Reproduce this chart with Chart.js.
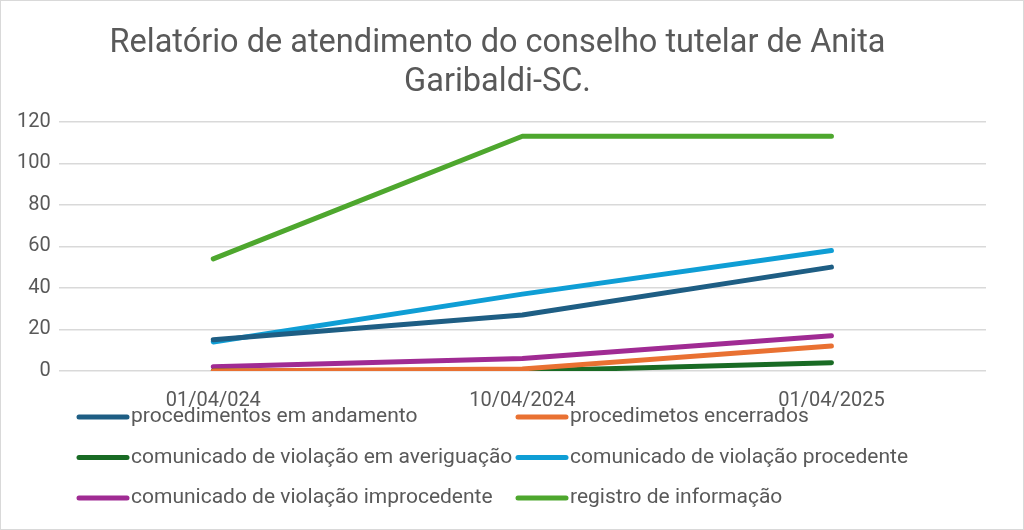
<!DOCTYPE html>
<html>
<head>
<meta charset="utf-8">
<script src="https://cdn.jsdelivr.net/npm/chart.js@4"></script>
<style>
  html, body { margin: 0; padding: 0; background: #fff; }
  #wrap { width: 1022px; height: 528px; border: 1px solid #d9d9d9; }
</style>
</head>
<body>
<div id="wrap"><canvas id="lineChart" width="1022" height="528"></canvas></div>
<script>
const datas = ["01/04/024", "10/04/2024", "01/04/2025"];
const andamento = [15, 27, 50];
const encerrados = [0, 1, 12];
const averiguacao = [0, 0, 4];
const procedente = [14, 37, 58];
const improcedente = [2, 6, 17];
const registro = [54, 113, 113];

const nomes = [
    "procedimentos em andamento",
    "procedimetos encerrados",
    "comunicado de violação em averiguação",
    "comunicado de violação procedente",
    "comunicado de violação improcedente",
    "registro de informação"
];
const cores = ["#1e5e84", "#e97132", "#196b24", "#0f9ed5", "#a02b93", "#4ea72e"];
const series = [andamento, encerrados, averiguacao, procedente, improcedente, registro];

const fonte = "Roboto";
const cinza = "#595959";

// legenda em duas colunas, como no original
const legendaGrade = {
    id: 'legendaGrade',
    afterDraw(chart) {
        const c = chart.ctx;
        c.save();
        chart.data.datasets.forEach((ds, i) => {
            const x0 = i % 2 === 0 ? 78 : 517;
            const y = 416 + Math.floor(i / 2) * 40.5;
            c.strokeStyle = ds.borderColor;
            c.lineWidth = 5;
            c.lineCap = 'round';
            c.beginPath();
            c.moveTo(x0, y);
            c.lineTo(x0 + 48, y);
            c.stroke();
            c.fillStyle = cinza;
            c.font = '21px ' + fonte;
            c.textBaseline = 'middle';
            c.fillText(ds.label, x0 + 52, y);
        });
        c.restore();
    }
};

const ctx = document.getElementById('lineChart').getContext('2d');
const lineChart = new Chart(ctx, {
    type: 'line',
    data: {
        labels: datas,
        datasets: series.map((s, i) => ({
            label: nomes[i],
            data: s,
            borderColor: cores[i],
            backgroundColor: cores[i],
            borderWidth: 5,
            borderCapStyle: 'round',
            borderJoinStyle: 'round',
            pointRadius: 0,
            tension: 0,
            fill: false
        }))
    },
    options: {
        responsive: false,
        animation: false,
        layout: { padding: { left: 8, right: 37, top: 24, bottom: 106 } },
        plugins: {
            legend: { display: false },
            tooltip: { enabled: false },
            title: {
                display: true,
                text: ["Relatório de atendimento do conselho tutelar de Anita", "Garibaldi-SC."],
                color: cinza,
                font: { family: fonte, size: 32.5, weight: 'normal', lineHeight: 1.18 },
                padding: { top: 0, bottom: 20 }
            }
        },
        scales: {
            x: {
                offset: true,
                grid: { display: false },
                border: { display: false },
                ticks: { color: cinza, font: { family: fonte, size: 20 }, padding: 10, maxRotation: 0 }
            },
            y: {
                min: 0,
                max: 120,
                grid: { color: '#d9d9d9', lineWidth: 1.5, drawTicks: false },
                border: { display: false },
                ticks: { stepSize: 20, color: cinza, font: { family: fonte, size: 20 }, padding: 8 }
            }
        }
    },
    plugins: [legendaGrade]
});
</script>
</body>
</html>
